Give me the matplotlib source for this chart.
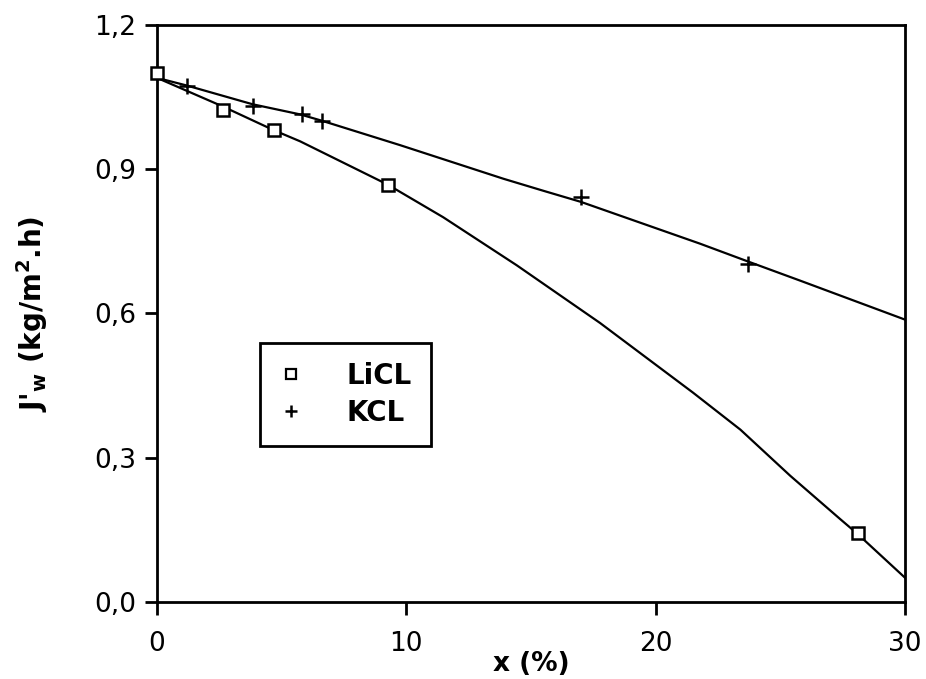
import matplotlib
matplotlib.use("Agg")
import matplotlib.pyplot as plt
from matplotlib.lines import Line2D

# ---- data ----
licl_x = [0.0, 2.66, 4.69, 9.25, 28.1]
licl_y = [1.10, 1.024, 0.981, 0.868, 0.142]

kcl_x = [1.2, 3.84, 5.8, 6.6, 17.0, 23.7]
kcl_y = [1.074, 1.031, 1.014, 1.000, 0.842, 0.703]

# fitted curves as drawn in the figure
licl_curve_x = [0.0, 2.66, 4.69, 5.74, 9.25, 11.48, 14.43, 17.77, 21.5, 23.4, 25.4, 27.4, 28.1, 30.0]
licl_curve_y = [1.090, 1.030, 0.981, 0.958, 0.868, 0.800, 0.700, 0.580, 0.435, 0.358, 0.262, 0.172, 0.141, 0.050]

kcl_curve_x = [0.0, 1.2, 3.84, 5.74, 6.6, 9.75, 13.9, 15.5, 17.0, 21.78, 23.7, 25.8, 30.0]
kcl_curve_y = [1.090, 1.074, 1.035, 1.014, 1.001, 0.950, 0.880, 0.855, 0.832, 0.745, 0.708, 0.668, 0.587]

xticks = [0, 10, 20, 30]
yticks = [0.0, 0.3, 0.6, 0.9, 1.2]
ytick_labels = ["0,0", "0,3", "0,6", "0,9", "1,2"]

fig = plt.figure(figsize=(9.26, 6.79), dpi=100)
ax = fig.add_axes([0.1695, 0.1138, 0.8078, 0.8494])

ax.plot(licl_curve_x, licl_curve_y, color="black", lw=1.6, zorder=2, solid_joinstyle="round")
ax.plot(kcl_curve_x, kcl_curve_y, color="black", lw=1.6, zorder=2, solid_joinstyle="round")
ax.plot(licl_x, licl_y, ls="none", marker="s", ms=9, mfc="white", mec="black", mew=1.8, zorder=3, clip_on=False)
ax.plot(kcl_x, kcl_y, ls="none", marker="+", ms=11, mec="black", mew=1.8, zorder=3)

ax.set_xlim(0, 30)
ax.set_ylim(0, 1.2)
ax.set_xticks(xticks)
ax.set_xticklabels([str(t) for t in xticks])
ax.set_yticks(yticks)
ax.set_yticklabels(ytick_labels)

for s in ax.spines.values():
    s.set_linewidth(2.0)
ax.tick_params(axis="both", direction="out", length=9, width=2, labelsize=19, pad=12)
ax.tick_params(axis="y", pad=6)

ax.set_xlabel("x (%)", fontsize=19, fontweight="bold", labelpad=-4)
ax.set_ylabel(r"J'$_\mathbf{w}$ (kg/m$^\mathbf{2}$.h)", fontsize=20, fontweight="bold", labelpad=32)

handles = [
    Line2D([], [], ls="none", marker="s", ms=7, mfc="white", mec="black", mew=1.6, label="LiCL"),
    Line2D([], [], ls="none", marker="+", ms=9, mec="black", mew=1.8, label="KCL"),
]
leg = ax.legend(handles=handles, loc="upper left", bbox_to_anchor=(0.138, 0.449),
                borderaxespad=0.0, fancybox=False, edgecolor="black", framealpha=1,
                prop={"size": 20, "weight": "bold"}, handletextpad=1.6,
                borderpad=0.7, labelspacing=0.3, handlelength=0.8,
                handleheight=0.7)
leg.get_frame().set_linewidth(2.0)

fig.savefig("out.png", dpi=100)
